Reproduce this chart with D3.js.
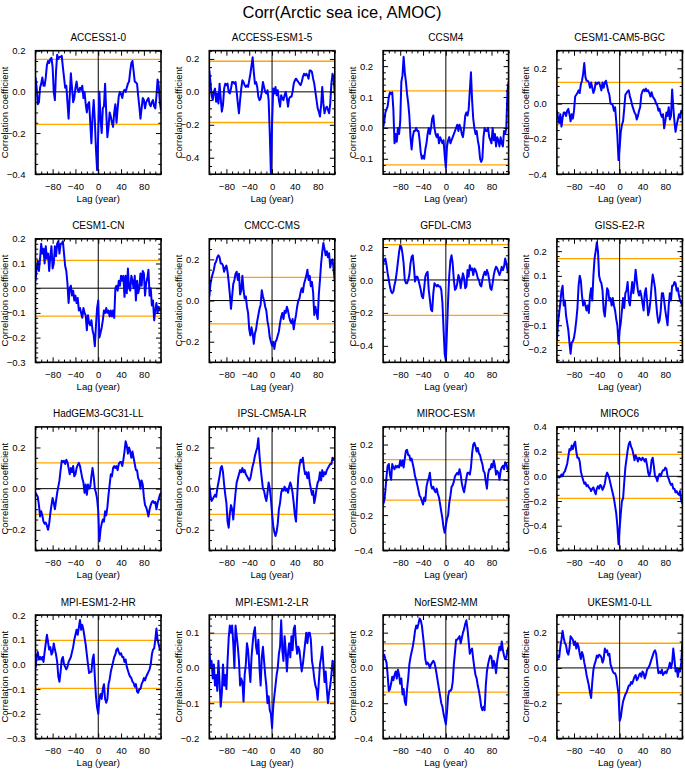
<!DOCTYPE html>
<html><head><meta charset="utf-8">
<script src="https://cdn.jsdelivr.net/npm/d3@7"></script>
<style>
html,body{margin:0;padding:0;background:#fff;}
svg{display:block;font-family:"Liberation Sans",Arial,Helvetica,sans-serif;}
</style></head><body>
<svg id="chart" width="685" height="769"></svg>
<script>
// ---------------- DATA ----------------
const chartTitle = "Corr(Arctic sea ice, AMOC)";
const xLabel = "Lag (year)";
const yLabel = "Correlation coefficient";
const lags = d3.range(-110, 111, 2);           // lag axis, years
const xTickValues = [-80, -40, 0, 40, 80];

const models = ["ACCESS1-0","ACCESS-ESM1-5","CCSM4","CESM1-CAM5-BGC",
  "CESM1-CN","CMCC-CMS","GFDL-CM3","GISS-E2-R",
  "HadGEM3-GC31-LL","IPSL-CM5A-LR","MIROC-ESM","MIROC6",
  "MPI-ESM1-2-HR","MPI-ESM1-2-LR","NorESM2-MM","UKESM1-0-LL"];

const yDomains = [[-0.4,0.2],[-0.5,0.25],[-0.15,0.25],[-0.4,0.3],
  [-0.3,0.2],[-0.3,0.3],[-0.5,0.25],[-0.25,0.25],
  [-0.3,0.3],[-0.3,0.3],[-0.4,0.3],[-0.6,0.4],
  [-0.3,0.2],[-0.2,0.15],[-0.4,0.3],[-0.4,0.3]];
const yTickSteps = [0.2,0.2,0.1,0.2, 0.1,0.2,0.2,0.1, 0.2,0.2,0.2,0.2, 0.1,0.1,0.2,0.2];
const sigLevels = [0.158,0.186,0.12,0.12, 0.113,0.113,0.215,0.17, 0.125,0.125,0.115,0.178, 0.097,0.097,0.137,0.14];

const ACCESS1_0 = [0.07,0.02,-0.06,-0.05,0.02,0.04,0.07,0.03,0.03,0.07,
  0.13,0.15,0.14,0.16,0.165,0.12,0.0,-0.04,0.1,0.18,
  0.16,0.17,0.17,0.175,0.12,0.07,0.02,0.03,-0.05,-0.13,
  -0.02,0.09,0.02,-0.05,-0.03,0.02,0.05,0.01,0.0,0.02,
  0.01,0.03,-0.03,0.0,-0.06,-0.1,-0.06,-0.05,-0.15,-0.25,
  -0.12,-0.04,-0.14,-0.28,-0.38,-0.2,0.0,-0.13,-0.2,-0.08,
  -0.07,0.04,-0.1,-0.22,-0.17,-0.1,-0.12,-0.15,-0.17,-0.1,
  -0.06,-0.15,-0.08,-0.02,0.0,-0.01,-0.03,0.0,0.01,0.0,
  0.02,0.04,0.05,0.1,0.14,0.15,0.1,0.05,0.045,0.04,
  -0.02,-0.07,-0.13,-0.08,-0.03,-0.04,-0.08,-0.05,-0.04,-0.03,
  -0.06,-0.07,-0.05,-0.04,-0.07,-0.08,-0.02,0.06,0.03,-0.05,
  -0.09];
const ACCESS_ESM1_5 = [0.13,0.06,-0.02,-0.05,0.0,0.02,-0.06,-0.01,-0.07,0.05,
  -0.04,-0.12,-0.08,0.02,0.05,0.04,0.05,0.0,-0.01,0.02,
  0.06,0.06,0.05,0.06,0.0,-0.07,-0.13,-0.05,0.02,0.07,
  0.06,0.04,0.03,0.04,0.03,0.07,0.11,0.16,0.21,0.12,
  0.05,0.06,0.03,-0.03,-0.05,-0.04,0.0,0.06,0.03,0.0,
  -0.01,0.01,-0.05,-0.25,-0.5,-0.2,0.02,-0.01,0.03,-0.02,
  0.01,-0.05,-0.09,-0.02,-0.04,-0.05,-0.02,0.0,-0.04,-0.09,
  -0.04,-0.03,-0.03,0.0,0.05,0.07,0.08,0.07,0.06,0.05,
  0.04,0.06,0.09,0.11,0.1,0.11,0.1,0.08,0.13,0.13,
  0.12,0.08,0.05,0.0,-0.05,-0.1,-0.12,-0.15,-0.08,0.03,
  -0.07,-0.13,-0.1,-0.09,-0.11,-0.13,-0.07,0.05,0.11,0.08,
  -0.02];
const CCSM4 = [0.0,0.02,0.05,0.06,0.07,0.1,0.115,0.11,0.115,0.06,
  -0.05,-0.02,-0.045,0.0,-0.02,0.02,0.15,0.17,0.23,0.18,
  0.15,0.11,0.08,0.04,-0.03,-0.07,-0.03,-0.01,-0.01,0.0,
  -0.01,-0.01,-0.04,-0.08,-0.1,-0.09,-0.1,-0.07,-0.05,-0.02,
  0.0,-0.02,0.0,0.03,0.04,0.0,-0.02,-0.03,-0.02,-0.05,
  -0.03,-0.04,-0.05,-0.04,-0.09,-0.13,-0.06,-0.04,-0.03,-0.05,
  -0.04,-0.03,-0.02,-0.01,0.0,0.01,-0.01,0.01,0.0,-0.02,
  -0.03,0.0,0.04,0.05,0.04,0.06,0.12,0.18,0.09,0.03,
  0.0,-0.02,-0.01,-0.04,-0.06,-0.1,-0.11,-0.1,-0.03,0.0,
  -0.01,-0.01,0.0,-0.03,-0.04,-0.05,0.0,-0.04,-0.02,-0.06,
  -0.03,-0.04,-0.06,-0.03,-0.05,-0.06,-0.01,-0.02,0.0,0.12,
  0.15];
const CESM1_CAM5_BGC = [-0.04,-0.08,-0.11,-0.06,-0.13,-0.08,-0.05,-0.05,-0.07,-0.04,
  -0.03,-0.06,-0.1,-0.06,-0.085,-0.04,0.04,0.05,0.06,0.075,
  0.06,0.11,0.13,0.17,0.23,0.15,0.13,0.13,0.12,0.09,
  0.12,0.09,0.06,0.08,0.12,0.11,0.12,0.12,0.1,0.075,
  0.12,0.09,0.12,0.13,0.1,0.07,0.05,0.0,0.0,-0.01,
  -0.04,-0.02,-0.1,-0.18,-0.32,-0.25,-0.16,-0.12,-0.1,-0.03,
  0.05,0.06,0.07,0.075,0.04,0.02,-0.01,-0.03,-0.05,-0.06,
  -0.09,-0.07,-0.04,-0.02,0.05,0.07,0.08,0.07,0.085,0.07,
  0.075,0.06,0.04,0.065,0.04,0.03,0.02,0.0,-0.01,-0.04,
  -0.03,-0.06,-0.075,-0.06,-0.14,-0.1,-0.05,-0.07,-0.02,-0.09,
  -0.07,0.08,-0.02,-0.1,-0.16,-0.12,-0.09,-0.06,-0.08,-0.04,
  -0.05];
const CESM1_CN = [0.03,0.08,0.11,0.07,0.12,0.18,0.14,0.16,0.1,0.17,
  0.12,0.14,0.07,0.13,0.17,0.08,0.1,0.17,0.13,0.18,
  0.19,0.14,0.18,0.18,0.19,0.14,0.09,0.07,0.02,-0.06,
  0.0,0.01,-0.03,-0.01,-0.05,-0.03,-0.06,-0.04,-0.09,-0.08,
  -0.1,-0.12,-0.08,-0.1,-0.11,-0.17,-0.11,-0.14,-0.15,-0.13,
  -0.17,-0.19,-0.235,-0.15,-0.08,-0.05,-0.2,-0.18,-0.16,-0.13,
  -0.09,-0.1,-0.08,-0.1,-0.09,-0.115,-0.09,-0.115,-0.09,-0.12,
  0.0,0.01,-0.01,0.03,0.01,0.05,0.03,0.05,-0.035,0.05,
  -0.02,0.08,0.0,-0.01,0.05,0.03,0.0,0.05,-0.05,0.03,
  -0.02,0.0,0.06,0.01,0.07,0.06,-0.03,0.02,0.04,0.075,
  -0.03,0.0,-0.07,-0.05,-0.13,-0.09,-0.06,-0.1,-0.075,-0.09,
  -0.08];
const CMCC_CMS = [0.02,0.08,0.11,0.13,0.15,0.18,0.19,0.21,0.22,0.21,
  0.18,0.18,0.17,0.14,0.16,0.17,0.14,0.09,0.03,-0.04,
  0.02,0.08,0.1,0.13,0.14,0.1,0.13,0.03,0.05,0.12,
  0.05,0.01,0.02,-0.03,-0.06,-0.14,-0.17,-0.13,-0.16,-0.21,
  -0.16,-0.14,-0.1,-0.07,-0.04,-0.02,0.05,0.02,0.0,-0.03,
  -0.05,-0.1,-0.13,-0.18,-0.2,-0.22,-0.2,-0.235,-0.2,-0.19,
  -0.17,-0.15,-0.11,-0.08,-0.06,-0.09,-0.05,-0.06,-0.03,-0.05,
  -0.08,-0.1,-0.11,-0.09,-0.14,-0.1,-0.07,-0.03,0.0,0.01,
  0.04,0.06,0.04,0.08,0.1,0.12,0.15,0.1,0.12,0.07,
  0.09,0.04,-0.07,-0.03,-0.06,-0.09,0.03,0.1,0.18,0.235,
  0.28,0.25,0.22,0.24,0.21,0.23,0.16,0.19,0.2,0.15,
  0.09];
const GFDL_CM3 = [0.1,0.12,0.13,0.09,0.04,0.0,-0.04,-0.07,-0.08,-0.07,
  -0.03,0.0,0.05,0.11,0.17,0.21,0.2,0.16,0.1,0.0,
  -0.02,-0.02,0.0,0.03,0.1,0.14,0.15,0.08,-0.01,0.02,
  0.02,0.0,-0.03,-0.06,-0.1,-0.11,-0.05,0.02,0.04,0.05,
  -0.06,-0.12,-0.18,-0.19,-0.08,-0.02,-0.03,-0.04,-0.03,-0.04,
  -0.04,-0.06,-0.14,-0.3,-0.45,-0.49,-0.3,-0.12,0.03,0.12,
  0.15,0.1,0.0,-0.06,-0.05,-0.02,0.03,0.01,-0.05,0.0,
  0.04,0.01,-0.05,-0.04,0.06,0.02,0.09,0.06,0.07,0.03,
  0.07,0.06,0.04,0.01,0.0,-0.03,-0.04,0.0,0.03,0.05,
  0.03,0.06,0.04,0.0,-0.05,-0.06,-0.02,0.03,0.06,0.08,
  0.07,0.05,0.03,0.05,0.08,0.06,0.08,0.13,0.1,0.06,
  0.04];
const GISS_E2_R = [-0.16,-0.09,-0.05,-0.01,0.04,0.06,-0.02,0.0,-0.06,-0.09,
  -0.12,-0.17,-0.215,-0.17,-0.165,-0.15,-0.12,-0.08,-0.03,0.06,
  0.1,0.08,0.02,-0.02,0.0,-0.02,-0.04,-0.02,-0.05,0.02,
  0.05,0.0,0.1,0.17,0.2,0.235,0.2,0.1,0.08,0.07,
  0.04,-0.04,-0.065,-0.01,0.05,0.04,0.0,0.01,-0.02,0.01,
  -0.02,-0.04,-0.075,-0.1,-0.175,-0.12,-0.09,-0.04,0.01,-0.03,
  0.03,0.04,0.075,0.0,-0.02,0.03,0.075,0.03,0.07,0.125,
  0.08,0.04,0.02,0.04,0.02,-0.01,-0.04,0.03,0.05,0.0,
  -0.06,-0.04,0.0,0.06,0.105,0.08,0.05,-0.01,-0.06,-0.09,
  -0.08,-0.04,0.03,0.03,0.0,-0.04,-0.07,-0.1,-0.02,0.03,
  0.0,0.06,0.06,0.075,0.07,0.04,0.05,0.02,0.0,-0.01,
  -0.02];
const HadGEM3_GC31_LL = [-0.02,-0.03,-0.04,-0.08,-0.135,-0.11,-0.13,-0.16,-0.17,-0.165,
  -0.18,-0.2,-0.17,-0.12,-0.08,-0.045,-0.07,-0.1,-0.06,-0.02,
  0.01,0.04,0.09,0.135,0.13,0.135,0.12,0.14,0.13,0.1,
  0.07,0.1,0.08,0.11,0.06,0.07,0.1,0.115,0.125,0.11,
  0.08,0.05,0.03,-0.02,0.02,-0.03,0.02,0.0,0.01,0.06,
  0.1,0.06,0.0,-0.02,-0.05,-0.11,-0.255,-0.2,-0.17,-0.15,
  -0.16,-0.11,-0.13,-0.09,-0.03,0.02,0.07,0.06,0.1,0.11,
  0.1,0.11,0.09,0.12,0.13,0.13,0.11,0.14,0.18,0.23,
  0.21,0.17,0.2,0.18,0.15,0.18,0.15,0.12,0.09,0.09,
  0.05,0.04,0.0,0.04,0.02,-0.04,-0.08,-0.09,-0.11,-0.135,
  -0.1,-0.08,-0.065,-0.06,-0.07,-0.065,-0.1,-0.07,-0.05,-0.03,
  -0.02];
const IPSL_CM5A_LR = [0.02,-0.03,-0.06,-0.05,-0.04,-0.03,-0.04,0.0,0.03,0.06,
  0.1,0.11,0.08,0.02,-0.03,-0.07,-0.16,-0.19,-0.12,-0.08,
  -0.1,-0.15,-0.08,-0.02,0.03,0.05,0.07,0.09,0.08,0.1,
  0.08,0.09,0.07,0.06,0.05,0.04,0.05,0.08,0.11,0.13,
  0.16,0.18,0.2,0.245,0.16,0.1,0.05,0.0,-0.01,-0.04,
  -0.06,-0.02,0.03,0.0,-0.05,-0.12,-0.18,-0.21,-0.23,-0.21,
  -0.17,-0.1,-0.07,-0.02,0.0,-0.01,0.01,-0.01,0.0,-0.02,
  0.01,0.03,0.01,-0.02,-0.07,-0.13,-0.16,-0.04,0.06,0.11,
  0.14,0.13,0.15,0.1,0.07,0.08,0.05,0.08,0.03,0.0,
  -0.03,-0.01,-0.07,-0.04,0.0,0.03,0.04,0.08,0.04,0.09,
  0.06,0.08,0.07,0.09,0.1,0.11,0.12,0.12,0.15,0.14,
  0.15];
const MIROC_ESM = [-0.14,-0.12,-0.06,0.02,0.08,0.09,0.03,0.0,0.09,0.07,
  0.06,0.08,0.07,0.08,0.07,0.11,0.08,0.11,0.07,0.12,
  0.165,0.17,0.14,0.14,0.11,0.12,0.09,0.06,0.02,0.0,
  -0.03,-0.06,-0.09,-0.1,-0.12,-0.14,-0.1,-0.12,-0.04,-0.01,
  0.01,0.04,-0.03,-0.05,-0.04,-0.06,-0.07,-0.05,-0.08,-0.1,
  -0.14,-0.18,-0.22,-0.27,-0.3,-0.26,-0.22,-0.2,-0.13,-0.09,
  -0.04,-0.03,-0.01,0.02,0.03,0.04,0.03,0.06,0.03,-0.02,
  -0.05,-0.07,-0.03,0.01,0.04,0.04,0.03,0.07,0.15,0.2,
  0.21,0.19,0.16,0.18,0.15,0.14,0.11,0.09,0.05,0.04,
  -0.01,-0.05,0.03,0.06,0.06,0.09,0.07,0.11,0.08,0.03,
  0.05,0.04,0.0,0.05,0.07,0.08,0.06,0.1,0.09,0.06,
  0.05];
const MIROC6 = [-0.01,0.0,-0.01,0.0,0.015,0.0,0.03,0.04,0.07,0.1,
  0.16,0.22,0.21,0.25,0.22,0.26,0.28,0.2,0.15,0.15,
  0.12,0.04,0.0,-0.03,-0.06,-0.05,-0.08,-0.07,-0.09,-0.1,
  -0.12,-0.1,-0.09,-0.12,-0.145,-0.1,-0.08,-0.1,-0.07,-0.08,
  -0.11,-0.09,-0.06,0.0,0.03,0.01,-0.02,-0.06,-0.1,-0.14,
  -0.18,-0.24,-0.3,-0.4,-0.55,-0.42,-0.3,-0.2,-0.18,-0.05,
  0.07,0.14,0.21,0.26,0.28,0.24,0.22,0.18,0.13,0.17,
  0.15,0.12,0.15,0.14,0.13,0.15,0.14,0.12,0.14,0.09,
  0.03,0.0,0.04,0.13,0.15,0.08,0.0,-0.01,-0.04,0.0,
  0.02,0.0,0.03,0.05,0.05,0.07,0.06,0.0,-0.02,-0.05,
  -0.07,-0.06,-0.1,-0.1,-0.13,-0.12,-0.14,-0.15,-0.12,-0.2,
  -0.22];
const MPI_ESM1_2_HR = [-0.015,0.03,0.05,0.02,0.03,0.02,0.03,0.01,0.05,0.085,
  0.12,0.09,0.06,0.07,0.04,0.05,0.085,0.06,0.04,0.01,
  -0.05,-0.07,-0.03,0.02,0.03,0.0,-0.01,-0.02,-0.01,0.01,
  0.02,0.03,0.05,0.07,0.1,0.12,0.14,0.12,0.15,0.18,
  0.14,0.16,0.14,0.11,0.08,0.04,0.0,-0.035,-0.03,-0.03,
  0.02,0.04,-0.05,-0.13,-0.175,-0.2,-0.14,-0.12,-0.14,-0.1,
  -0.08,-0.14,-0.155,-0.14,-0.08,-0.06,-0.03,-0.01,0.01,0.03,
  0.04,0.06,0.065,0.05,0.04,0.045,0.03,0.03,0.01,0.02,
  -0.01,-0.025,-0.04,-0.05,-0.055,-0.07,-0.075,-0.09,-0.08,-0.11,
  -0.115,-0.1,-0.1,-0.08,-0.07,-0.055,-0.065,-0.05,-0.04,-0.03,
  -0.02,0.0,0.04,0.06,0.065,0.1,0.145,0.1,0.08,0.06,
  0.065];
const MPI_ESM1_2_LR = [0.06,0.0,0.02,-0.03,0.01,-0.05,-0.02,-0.065,0.02,-0.04,
  -0.11,-0.07,0.01,-0.05,-0.02,-0.06,0.02,0.085,0.12,0.1,
  0.12,0.07,0.0,0.12,0.09,0.06,0.02,-0.05,-0.03,-0.04,
  -0.095,-0.02,0.01,0.07,0.05,0.0,-0.04,0.03,0.07,0.1,
  0.115,0.06,0.04,0.08,0.0,-0.05,0.03,0.06,0.02,-0.02,
  -0.05,-0.1,-0.08,-0.12,-0.13,-0.17,-0.11,-0.08,-0.05,-0.02,
  0.0,0.04,0.06,0.135,0.05,0.02,0.09,0.05,-0.01,0.04,
  0.07,0.03,0.09,0.05,0.11,0.12,0.07,0.04,0.06,0.05,
  0.02,-0.01,0.01,0.04,0.07,0.1,0.07,0.1,0.1,0.08,
  0.02,0.0,-0.03,-0.05,-0.06,-0.09,-0.04,0.01,0.03,0.06,
  0.01,-0.04,-0.01,-0.06,-0.1,-0.07,-0.05,-0.02,0.02,0.0,
  -0.05];
const NorESM2_MM = [0.065,0.075,0.05,0.03,-0.04,-0.13,-0.12,-0.09,-0.05,-0.07,
  -0.04,-0.02,-0.06,-0.01,-0.04,-0.09,-0.06,-0.15,-0.12,-0.19,
  -0.21,-0.12,-0.06,0.02,0.06,0.09,0.12,0.16,0.21,0.24,
  0.225,0.25,0.28,0.27,0.24,0.18,0.12,0.05,0.02,0.03,
  0.02,0.0,0.02,0.03,0.04,0.03,0.0,-0.04,-0.08,-0.12,
  -0.16,-0.2,-0.22,-0.26,-0.29,-0.32,-0.25,-0.16,-0.13,-0.13,
  -0.12,-0.08,0.02,0.09,0.16,0.16,0.17,0.18,0.14,0.17,
  0.2,0.22,0.25,0.27,0.22,0.15,0.08,0.1,0.11,0.05,
  0.0,-0.04,-0.06,-0.1,-0.13,-0.17,-0.22,-0.24,-0.22,-0.24,
  -0.1,-0.02,0.02,0.05,0.07,0.06,0.0,0.04,0.02,-0.03,
  0.04,0.08,0.12,0.1,0.15,0.1,0.07,0.05,0.06,0.1,
  0.12];
const UKESM1_0_LL = [0.04,0.07,0.06,0.12,0.16,0.21,0.17,0.14,0.13,0.09,
  0.075,0.11,0.18,0.17,0.16,0.13,0.15,0.11,0.14,0.12,
  0.08,0.05,0.09,0.07,0.03,0.0,-0.04,-0.07,-0.1,-0.14,
  -0.17,-0.08,-0.01,0.02,0.04,0.07,0.06,0.075,0.07,0.06,
  0.03,0.05,0.11,0.09,0.1,0.07,0.08,0.02,0.0,-0.02,
  -0.03,-0.03,-0.05,-0.1,-0.15,-0.3,-0.28,-0.23,-0.19,-0.17,
  -0.15,-0.14,-0.12,-0.1,-0.1,-0.08,-0.09,-0.07,-0.05,-0.04,
  -0.07,-0.06,-0.04,-0.03,-0.05,-0.02,-0.03,-0.06,-0.04,-0.01,
  0.0,0.01,0.03,0.05,0.07,0.09,0.1,0.08,0.02,-0.03,
  -0.02,-0.03,-0.01,-0.04,-0.03,-0.02,-0.03,-0.01,0.0,0.03,
  0.0,0.03,0.11,0.05,-0.02,0.0,-0.05,-0.01,-0.02,0.03,
  0.15];

const series = [ACCESS1_0, ACCESS_ESM1_5, CCSM4, CESM1_CAM5_BGC,
  CESM1_CN, CMCC_CMS, GFDL_CM3, GISS_E2_R,
  HadGEM3_GC31_LL, IPSL_CM5A_LR, MIROC_ESM, MIROC6,
  MPI_ESM1_2_HR, MPI_ESM1_2_LR, NorESM2_MM, UKESM1_0_LL];

// ---------------- LAYOUT ----------------
const W = 685, H = 769;
const left0 = 35.5, colStep = 173.8, pw = 125.5;
const top0 = 50.7, rowStep = 188.1, ph = 123.5;
const blue = "#0000ff", orange = "#ffa500";

const svg = d3.select("#chart");
svg.append("rect").attr("width", W).attr("height", H).attr("fill", "#fff");

svg.append("text").attr("x", 342).attr("y", 17.5).attr("text-anchor", "middle")
  .attr("font-size", 16.5).attr("fill", "#000").text(chartTitle);

const defs = svg.append("defs");

models.forEach((name, i) => {
  const col = i % 4, row = Math.floor(i / 4);
  const x0 = left0 + col * colStep, y0 = top0 + row * rowStep;
  const g = svg.append("g").attr("transform", `translate(${x0},${y0})`);
  const x = d3.scaleLinear().domain([-110, 110]).range([0, pw]);
  const [lo, hi] = yDomains[i];
  const y = d3.scaleLinear().domain([lo, hi]).range([ph, 0]);
  const step = yTickSteps[i];
  const minorStep = step > 0.15 ? 0.05 : 0.02;
  const eps = 1e-6;
  const yMajor = d3.range(Math.ceil(lo / step - eps), Math.floor(hi / step + eps) + 1).map(k => +(k * step).toFixed(3));
  const yMinor = d3.range(Math.ceil(lo / minorStep - eps), Math.floor(hi / minorStep + eps) + 1)
    .map(k => +(k * minorStep).toFixed(3))
    .filter(v => !yMajor.some(m => Math.abs(m - v) < 1e-6));
  const xMinor = d3.range(-110, 111, 10).filter(v => !xTickValues.includes(v));

  const cid = "clip" + i;
  defs.append("clipPath").attr("id", cid).append("rect").attr("width", pw).attr("height", ph);

  // significance lines
  [sigLevels[i], -sigLevels[i]].forEach(s => {
    g.append("line").attr("x1", 0).attr("x2", pw).attr("y1", y(s)).attr("y2", y(s))
      .attr("stroke", orange).attr("stroke-width", 1.3);
  });
  // zero lines
  g.append("line").attr("x1", 0).attr("x2", pw).attr("y1", y(0)).attr("y2", y(0))
    .attr("stroke", "#000").attr("stroke-width", 1);
  g.append("line").attr("x1", x(0)).attr("x2", x(0)).attr("y1", 0).attr("y2", ph)
    .attr("stroke", "#000").attr("stroke-width", 1);

  // data line
  const line = d3.line().x((d, j) => x(lags[j])).y(d => y(d));
  g.append("path").datum(series[i]).attr("clip-path", `url(#${cid})`)
    .attr("d", line).attr("fill", "none").attr("stroke", blue)
    .attr("stroke-width", 2).attr("stroke-linejoin", "round");

  // axes (ticks inward on all sides)
  const tickStyle = sel => { sel.select(".domain").remove(); sel.selectAll("line").attr("stroke", "#000").attr("stroke-width", 1); };
  g.append("g").attr("transform", `translate(0,${ph})`)
    .call(d3.axisBottom(x).tickValues(xTickValues).tickSize(-5).tickPadding(9).tickFormat(d3.format("d")))
    .call(tickStyle)
    .call(s => s.selectAll("text").attr("font-size", 9.5).attr("fill", "#000").attr("font-family", null));
  g.append("g").attr("transform", `translate(0,${ph})`)
    .call(d3.axisBottom(x).tickValues(xMinor).tickSize(-2.7).tickFormat(""))
    .call(tickStyle);
  g.append("g").call(d3.axisTop(x).tickValues(xTickValues).tickSize(-5).tickFormat("")).call(tickStyle);
  g.append("g").call(d3.axisTop(x).tickValues(xMinor).tickSize(-2.7).tickFormat("")).call(tickStyle);

  g.append("g")
    .call(d3.axisLeft(y).tickValues(yMajor).tickSize(-5).tickPadding(10).tickFormat(d3.format(".1f")))
    .call(tickStyle)
    .call(s => s.selectAll("text").attr("font-size", 9.5).attr("fill", "#000").attr("font-family", null));
  g.append("g").call(d3.axisLeft(y).tickValues(yMinor).tickSize(-2.7).tickFormat("")).call(tickStyle);
  g.append("g").attr("transform", `translate(${pw},0)`)
    .call(d3.axisRight(y).tickValues(yMajor).tickSize(-5).tickFormat("")).call(tickStyle);
  g.append("g").attr("transform", `translate(${pw},0)`)
    .call(d3.axisRight(y).tickValues(yMinor).tickSize(-2.7).tickFormat("")).call(tickStyle);

  // frame
  g.append("rect").attr("width", pw).attr("height", ph).attr("fill", "none")
    .attr("stroke", "#000").attr("stroke-width", 1.6);

  // labels
  g.append("text").attr("x", pw / 2).attr("y", -9.5).attr("text-anchor", "middle")
    .attr("font-size", 10).attr("fill", "#000").text(name);
  g.append("text").attr("x", pw / 2).attr("y", ph + 27.5).attr("text-anchor", "middle")
    .attr("font-size", 9.5).attr("fill", "#000").text(xLabel);
  g.append("text").attr("transform", `translate(-27.5,${ph / 2}) rotate(-90)`)
    .attr("text-anchor", "middle").attr("font-size", 9.5).attr("fill", "#000").text(yLabel);
});
</script>
</body></html>
